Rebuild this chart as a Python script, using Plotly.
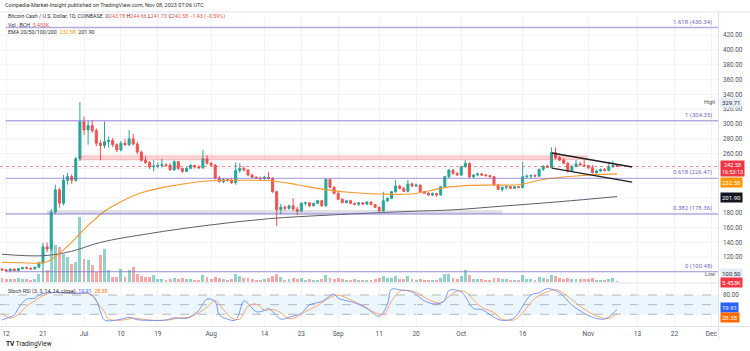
import plotly.graph_objects as go
import pandas as pd

# ---------------- data ----------------
start = pd.Timestamp("2023-06-11")

opens = [104, 103, 101.5, 104, 102, 104.5, 106, 105, 104, 106.5,
         112, 134, 131, 181, 211, 193, 224, 229, 224, 253,
         303, 292, 298, 291, 274, 271, 276, 278, 272, 265,
         274, 272, 280, 273, 262, 251, 248, 242, 243, 244,
         245, 244, 238, 249, 240, 236, 240, 244, 242, 241,
         253, 247, 244.5, 227, 222, 225, 224, 221, 237, 240,
         238, 231, 228, 227, 226, 228, 226.5, 208.5, 184, 187.5,
         186, 189.5, 185, 182, 193, 193.5, 189.5, 192.8, 196.4, 189.5,
         225, 214.4, 206.3, 198.2, 193.7, 196.4, 192.8, 191.5, 193.5, 191.8,
         194.5, 191, 187.4, 182.4, 196.4, 199.6, 208.6, 216.2, 213, 209,
         219, 216.2, 217.5, 208.6, 206.5, 204, 206, 204, 215.3, 228.8,
         237.8, 233.3, 231, 242.3, 246.9, 228.8, 231, 232.5, 231, 230.2,
         228.8, 217.6, 211.7, 214.4, 215.3, 213.1, 215.3, 214, 228.8, 229.5,
         230.5, 229.5, 238.7, 243.2, 241.5, 261.3, 254.5, 251.3, 246.8, 237,
         242.5, 246, 244.6, 243.5, 241, 234.2, 236.5, 238.5, 237.2, 242.3,
         243.78]
highs = [105.5, 104, 104.5, 105, 105, 107, 107.5, 106.5, 107, 114,
         139, 140, 185, 218, 214, 231, 234, 232, 256, 329.71,
         310, 304, 305, 294, 278, 303, 283, 281, 274, 277,
         280, 292, 287, 276, 264, 256, 250, 251, 248, 253,
         247, 247, 251, 250, 241, 242, 246, 245, 244, 265,
         258, 249, 246, 230, 227, 226, 227, 248, 247, 243,
         239, 233, 229.5, 229, 230, 235, 228, 210, 192, 190,
         191, 200, 188, 194, 195, 194, 193.5, 197.5, 197, 226,
         226, 216, 208, 199.5, 197.5, 197, 194, 194, 194, 196,
         195, 192, 188.3, 208.5, 200.5, 209.5, 224.3, 218, 215, 224.3,
         221, 219.5, 218.5, 210, 208, 207.5, 207, 216, 229.5, 239,
         239, 234.5, 243.5, 251.3, 248, 232, 234.5, 234, 232.5, 231,
         229.5, 219, 215.5, 216.5, 216.5, 216.5, 216.5, 249, 232, 231.5,
         232, 240, 244, 245, 268.4, 268.5, 257, 254, 249, 245,
         251.3, 249, 251.3, 245, 244.6, 238.5, 240, 240.5, 249, 250.4,
         244.66]
lows = [101.5, 100.5, 101, 101.5, 101, 103.5, 104, 103.5, 103.5, 105.5,
        111, 127, 129, 178, 187, 190, 218, 219, 222, 250,
        285, 272, 288, 270, 251, 267, 268, 269, 262, 263,
        270, 270, 271, 259, 249, 246, 239, 236, 240, 241,
        242, 237, 237, 238, 234, 235, 239, 240, 239, 239,
        245, 243, 225, 221, 220, 222, 219, 218, 234, 236,
        230, 227, 226, 225, 225, 225, 207, 162, 178, 183,
        184, 182, 177, 181, 190, 188, 188.5, 191.5, 188, 188,
        213, 205, 197, 193.5, 193, 192, 190, 189.5, 191, 190.5,
        190.5, 186.5, 181, 181.5, 194.5, 198.5, 207, 211.5, 208, 207.5,
        215, 214.5, 207.5, 205.5, 203, 202.5, 201.5, 203, 213.5, 227,
        231.5, 230, 230, 241, 227, 227, 229.5, 230, 229, 227.5,
        216.5, 210.5, 208.5, 211.5, 212, 212.5, 213.5, 213, 226, 226.5,
        228, 228.5, 236.5, 240.5, 240, 252, 249.5, 245.5, 234, 236,
        241.5, 243, 242.5, 239, 233, 232.5, 235, 236, 236, 240.5,
        241.73]
closes = [103, 101.5, 104, 102, 104.5, 106, 105, 104, 106.5, 112,
          134, 131, 181, 211, 193, 224, 229, 224, 253, 303,
          292, 298, 291, 274, 271, 276, 278, 272, 265, 274,
          272, 280, 273, 262, 251, 248, 242, 243, 244, 245,
          244, 238, 249, 240, 236, 240, 244, 242, 241, 253,
          247, 244.5, 227, 222, 225, 224, 221, 237, 240, 238,
          231, 228, 227, 226, 228, 226.5, 208.5, 184, 187.5, 186,
          189.5, 185, 182, 193, 193.5, 189.5, 192.8, 196.4, 189.5, 225,
          214.4, 206.3, 198.2, 193.7, 196.4, 192.8, 191.5, 193.5, 191.8, 194.5,
          191, 187.4, 182.4, 196.4, 199.6, 208.6, 216.2, 213, 209, 219,
          216.2, 217.5, 208.6, 206.5, 204, 206, 204, 215.3, 228.8, 237.8,
          233.3, 231, 242.3, 246.9, 228.8, 231, 232.5, 231, 230.2, 228.8,
          217.6, 211.7, 214.4, 215.3, 213.1, 215.3, 214, 228.8, 229.5, 230.5,
          229.5, 238.7, 243.2, 241.5, 261.3, 254.5, 251.3, 246.8, 237, 242.5,
          246, 244.6, 243.5, 241, 234.2, 236.5, 238.5, 237.2, 242.3, 244.01,
          242.58]
volumes_k = [21, 16, 16, 16, 21, 16, 16, 11, 16, 43,
             178, 65, 227, 200, 189, 151, 135, 97, 108, 351,
             124, 119, 92, 54, 146, 178, 65, 27, 27, 70,
             27, 65, 81, 43, 32, 27, 27, 38, 16, 14,
             12, 18, 22, 18, 20, 16, 14, 12, 10, 38,
             27, 14, 25, 22, 14, 10, 16, 43, 30, 20,
             22, 16, 10, 9, 14, 22, 30, 43, 25, 12,
             14, 22, 18, 20, 12, 14, 10, 12, 18, 38,
             24, 18, 20, 14, 10, 12, 14, 12, 10, 12,
             10, 14, 20, 30, 20, 24, 30, 18, 14, 30,
             16, 12, 18, 12, 10, 10, 12, 22, 43, 43,
             24, 14, 30, 65, 38, 16, 14, 14, 10, 12,
             22, 20, 16, 14, 12, 10, 10, 38, 18, 14,
             12, 27, 22, 14, 38, 32, 20, 18, 24, 16,
             18, 14, 16, 14, 22, 12, 10, 10, 16, 20,
             5.453]

# EMA lines, read at sample days (day offset from start, value)
ema50_day = [0, 5, 9, 11, 13, 15, 17, 19, 22, 25, 29, 34, 41, 50, 58, 66,
             72, 78, 86, 92, 100, 108, 114, 120, 126, 132, 140, 150]
ema50_val = [113, 112.5, 112, 114, 121, 130, 140, 152, 168, 182, 195, 207,
             216, 223, 224, 223, 218, 212, 207, 205.5, 205.5, 214, 217,
             217.5, 218, 225, 229.7, 232.58]
ema200_day = [0, 10, 17, 24, 36, 50, 65, 80, 100, 110, 122, 136, 150]
ema200_val = [124, 122, 128, 140, 152, 163, 172, 177, 182, 184, 189, 195, 201.9]

# Stoch RSI (%K blue, %D orange)
stk_day = [0, 2, 3, 4, 6, 8, 9, 11, 13, 16, 19, 21, 23, 24, 25, 28, 31, 33,
           36, 40, 42, 45, 47, 48, 50, 52, 53, 55, 57, 59, 60, 62, 64, 65,
           68, 70, 73, 75, 78, 81, 82, 86, 89, 92, 94, 95, 97, 100, 103,
           106, 108, 109, 112, 115, 117, 121, 123, 125, 129, 131, 133, 136,
           139, 142, 145, 147, 148, 150]
stk_val = [2, 12, 18, 39, 67, 70, 80, 87, 88, 86, 85, 86, 64, 28, 2, 2,
           10, 3, 1, 2, 9, 7, 22, 32, 67, 60, 18, 5, 2, 62, 54, 28, 32, 38,
           5, 11, 23, 49, 60, 83, 70, 56, 38, 14, 52, 98, 96, 90, 62, 52,
           64, 94, 90, 38, 35, 4, 1, 10, 80, 87, 100, 87, 49, 23, 7, 5, 12, 35]
std_day = [0, 2, 4, 6, 8, 10, 12, 16, 20, 22, 23, 25, 26, 30, 32, 34, 37, 41,
           43, 46, 48, 50, 52, 54, 56, 58, 60, 62, 64, 66, 68, 70, 72, 74,
           77, 80, 82, 85, 88, 91, 93, 95, 97, 99, 101, 104, 107, 109, 111,
           113, 115, 117, 120, 122, 125, 127, 130, 133, 135, 137, 140, 143,
           146, 148, 150]
std_val = [23, 8, 20, 45, 62, 78, 87, 86, 85, 80, 60, 28, 5, 3, 8, 5, 1, 3,
           8, 12, 25, 42, 62, 35, 8, 5, 45, 52, 33, 35, 25, 6, 12, 28, 48,
           72, 80, 65, 47, 25, 20, 60, 92, 94, 88, 66, 55, 75, 92, 90, 65,
           42, 25, 5, 3, 25, 70, 90, 97, 85, 55, 28, 10, 7, 22]

fib_levels = [430.34, 304.35, 226.47, 178.36, 100.48]
fib_texts = ["1.618 (430.34)", "1 (304.35)", "0.618 (226.47)", "0.382 (178.36)", "0 (100.48)"]

tick_dates = ["2023-06-12", "2023-06-21", "2023-07-01", "2023-07-10", "2023-07-19",
              "2023-08-01", "2023-08-14", "2023-08-23", "2023-09-01", "2023-09-11",
              "2023-09-20", "2023-10-01", "2023-10-16", "2023-11-01", "2023-11-13",
              "2023-11-22", "2023-12-01"]
tick_text = ["12", "21", "Jul", "10", "19", "Aug", "14", "23", "Sep", "11", "20",
             "Oct", "16", "Nov", "13", "22", "Dec"]
# price ticks shown (those hidden behind the value labels are left out)
price_ticks = [120, 140, 160, 180, 260, 280, 300, 320, 340, 360, 380, 400, 420]
grid_ticks = list(range(100, 440, 20))

# ---------------- helpers ----------------
W, H = 750, 351
def d(day):
    return start + pd.Timedelta(days=day)
def py(ypx):
    return 1 - ypx / H
def px(xpx):
    return xpx / W

dates = [d(i) for i in range(len(opens))]
GREEN = "#26a69a"
RED = "#ef5350"
FONT = "Roboto, Liberation Sans, sans-serif"
TXT = "#4c525e"

# layout geometry (pixels)
PLOT_R = 718
PANE_TOP, PANE_BOT = 18, 282
PX_PER_UNIT = 0.74  # price px per dollar, 400 at y=50
p_top = 400 + (50 - PANE_TOP) / PX_PER_UNIT
p_bot = 400 - (PANE_BOT - 50) / PX_PER_UNIT
ST_TOP, ST_BOT = 284, 326
s_top = (320.7 - ST_TOP) / 0.321
s_bot = (320.7 - ST_BOT) / 0.321
VOL_PX = 65
vol_range = max(volumes_k) * (PANE_BOT - PANE_TOP) / VOL_PX

x_left = start - pd.Timedelta(days=2 / 4.1)
x_right = start + pd.Timedelta(days=(PLOT_R - 2) / 4.1)

fig = go.Figure()

# volume (base axis y)
vol_colors = ["rgba(38,166,154,0.5)" if c >= o else "rgba(239,83,80,0.5)"
              for o, c in zip(opens, closes)]
fig.add_trace(go.Bar(x=dates, y=volumes_k, marker=dict(color=vol_colors, line=dict(width=0)),
                     width=0.72 * 86400000, xaxis="x", yaxis="y", hoverinfo="skip"))

# candles on price axis y3
fig.add_trace(go.Candlestick(
    x=dates, open=opens, high=highs, low=lows, close=closes,
    increasing=dict(line=dict(color=GREEN, width=1), fillcolor=GREEN),
    decreasing=dict(line=dict(color=RED, width=1), fillcolor=RED),
    whiskerwidth=0, xaxis="x", yaxis="y3", hoverinfo="skip"))

fig.add_trace(go.Scatter(x=[d(v) for v in ema200_day], y=ema200_val, mode="lines",
                         line=dict(color="#5d606b", width=1, shape="spline"),
                         xaxis="x", yaxis="y3", hoverinfo="skip"))
fig.add_trace(go.Scatter(x=[d(v) for v in ema50_day], y=ema50_val, mode="lines",
                         line=dict(color="#f59b2f", width=1.1, shape="spline"),
                         xaxis="x", yaxis="y3", hoverinfo="skip"))

# stoch RSI
fig.add_trace(go.Scatter(x=[d(v) for v in std_day], y=std_val, mode="lines",
                         line=dict(color="#ff9a5a", width=0.9, shape="spline"),
                         xaxis="x", yaxis="y2", hoverinfo="skip"))
fig.add_trace(go.Scatter(x=[d(v) for v in stk_day], y=stk_val, mode="lines",
                         line=dict(color="#6b8ff5", width=0.9, shape="spline"),
                         xaxis="x", yaxis="y2", hoverinfo="skip"))

shapes = []
# stoch band + dashed levels
shapes.append(dict(type="rect", xref="x domain", yref="y2", x0=0, x1=1, y0=20, y1=80,
                   fillcolor="rgba(33,150,243,0.09)", line=dict(width=0), layer="below"))
for lv in (20, 50, 80):
    shapes.append(dict(type="line", xref="x domain", yref="y2", x0=0, x1=1, y0=lv, y1=lv,
                       line=dict(color="#a3a6af", width=0.8, dash="dash"), layer="below"))
# horizontal grid lines of the price pane
for g in grid_ticks:
    shapes.append(dict(type="line", xref="x domain", yref="y3", x0=0, x1=1, y0=g, y1=g,
                       line=dict(color="#f2f3f6", width=1), layer="below"))
# support / resistance zones
shapes.append(dict(type="rect", xref="x", yref="y3", x0=d(19), x1=d(142.7), y0=251.5, y1=257,
                   fillcolor="rgba(242,54,69,0.22)", line=dict(color="rgba(242,54,69,0.35)", width=0.6)))
shapes.append(dict(type="rect", xref="x", yref="y3", x0=d(10.9), x1=d(122), y0=178.4, y1=183.8,
                   fillcolor="rgba(120,134,160,0.24)", line=dict(width=0)))
# rounded-bottom shaded area
cup = [(110.97, 256.8), (119.8, 217.6), (126.3, 217.6), (126.8, 251.5)]
path = "M " + " L ".join(f"{d(a).strftime('%Y-%m-%d %H:%M:%S')},{b}" for a, b in cup) + " Z"
shapes.append(dict(type="path", xref="x", yref="y3", path=path,
                   fillcolor="rgba(38,166,154,0.12)", line=dict(color="rgba(120,134,150,0.5)", width=0.6)))
# fib levels
for lv in fib_levels:
    shapes.append(dict(type="line", xref="x", yref="y3", x0=d(0.9), x1=d(200), y0=lv, y1=lv,
                       line=dict(color="rgba(126,100,200,0.55)", width=1.4)))
# current price dotted line
shapes.append(dict(type="line", xref="x domain", yref="y3", x0=0, x1=1, y0=closes[-1], y1=closes[-1],
                   line=dict(color="rgba(242,54,69,0.7)", width=0.8, dash="dot")))
# descending channel
shapes.append(dict(type="line", xref="x", yref="y3", x0=d(134.1), y0=260.8, x1=d(153.7), y1=241.9,
                   line=dict(color="#1e1e1e", width=1.3)))
shapes.append(dict(type="line", xref="x", yref="y3", x0=d(134.1), y0=240.5, x1=d(153.7), y1=221.6,
                   line=dict(color="#1e1e1e", width=1.3)))
# pane separators / borders
shapes.append(dict(type="line", xref="paper", yref="paper", x0=0, x1=px(PLOT_R), y0=py(283), y1=py(283),
                   line=dict(color="#e0e3eb", width=1)))
shapes.append(dict(type="line", xref="paper", yref="paper", x0=0, x1=1, y0=py(326.5), y1=py(326.5),
                   line=dict(color="#e0e3eb", width=1)))
shapes.append(dict(type="line", xref="paper", yref="paper", x0=px(PLOT_R + 0.5), x1=px(PLOT_R + 0.5),
                   y0=py(12), y1=py(339), line=dict(color="#e0e3eb", width=1)))
shapes.append(dict(type="line", xref="paper", yref="paper", x0=0, x1=1, y0=py(12), y1=py(12),
                   line=dict(color="#e0e3eb", width=1)))

ann = []
for lv, t in zip(fib_levels, fib_texts):
    ann.append(dict(xref="x domain", yref="y3", x=0.995, y=lv, xanchor="right", yanchor="bottom",
                    text=t, showarrow=False, font=dict(family=FONT, size=6, color="#7b68c4")))

def box(ypx, text, bg, fc="white", x=720, size=6):
    ann.append(dict(xref="paper", yref="paper", x=px(x), y=py(ypx), xanchor="left", yanchor="middle",
                    text=text, showarrow=False, bgcolor=bg, borderpad=1,
                    font=dict(family=FONT, size=size, color=fc)))

box(102, f"{max(highs):.2f}", "#e3ecf7", "#2a2e39")
box(168.8, f"{closes[-1]:.2f}<br>16:53:13", "#f23645", size=5.5)
box(182, f"{ema50_val[-1]:.2f}", "#ff9800")
box(197.5, f"{ema200_val[-1]:.2f}", "#131722")
box(273.3, f"{min(lows):.2f}", "#e3ecf7", "#2a2e39")
box(282, f"{volumes_k[-1]:.3f}K", "#f23645")
box(307.7, "19.91", "#2962ff")
box(317, "28.38", "#ff6d00")
ann.append(dict(xref="paper", yref="paper", x=px(717), y=py(102), xanchor="right", yanchor="middle",
                text="High", showarrow=False, font=dict(family=FONT, size=5.5, color="#555")))
ann.append(dict(xref="paper", yref="paper", x=px(717), y=py(274), xanchor="right", yanchor="middle",
                text="Low", showarrow=False, font=dict(family=FONT, size=5.5, color="#555")))

# header texts
ann.append(dict(xref="paper", yref="paper", x=px(3), y=py(5), xanchor="left", yanchor="middle",
                text="Coinpedia-Market-Insight published on TradingView.com, Nov 08, 2023 07:06 UTC",
                showarrow=False, font=dict(family=FONT, size=5.5, color="#333")))
R = "#ef5350"
ann.append(dict(xref="paper", yref="paper", x=px(6), y=py(17), xanchor="left", yanchor="middle",
                text=("Bitcoin Cash / U.S. Dollar, 1D, COINBASE  "
                      f"O<span style='color:{R}'>243.78</span> H<span style='color:{R}'>244.66</span> "
                      f"L<span style='color:{R}'>241.73</span> C<span style='color:{R}'>242.58</span> "
                      f"<span style='color:{R}'>−1.43 (−0.59%)</span>"),
                showarrow=False, font=dict(family=FONT, size=5.3, color="#2a2e39")))
ann.append(dict(xref="paper", yref="paper", x=px(6), y=py(24.5), xanchor="left", yanchor="middle",
                text=f"Vol · BCH  <span style='color:{R}'>5.453K</span>",
                showarrow=False, font=dict(family=FONT, size=5.3, color="#2a2e39")))
ann.append(dict(xref="paper", yref="paper", x=px(6), y=py(32), xanchor="left", yanchor="middle",
                text="EMA 20/50/100/200  <span style='color:#ff9800'>232.58</span>  201.90",
                showarrow=False, font=dict(family=FONT, size=5.3, color="#2a2e39")))
ann.append(dict(xref="paper", yref="paper", x=px(6), y=py(291), xanchor="left", yanchor="middle",
                text=("Stoch RSI (3, 3, 14, 14, close)  <span style='color:#2962ff'>19.91</span>  "
                      "<span style='color:#ff6d00'>28.38</span>"),
                showarrow=False, font=dict(family=FONT, size=5.3, color="#2a2e39")))
ann.append(dict(xref="paper", yref="paper", x=px(4), y=py(343.5), xanchor="left", yanchor="middle",
                text="<b>TV</b> TradingView", showarrow=False,
                font=dict(family=FONT, size=6.5, color="#131722")))

fig.update_layout(
    width=W, height=H, margin=dict(l=0, r=0, t=0, b=0),
    paper_bgcolor="white", plot_bgcolor="white", showlegend=False,
    font=dict(family=FONT, size=6.5, color=TXT),
    shapes=shapes, annotations=ann, hovermode=False, bargap=0,
    xaxis=dict(domain=[0, px(PLOT_R)], anchor="y2", type="date", range=[x_left, x_right],
               tickvals=tick_dates, ticktext=tick_text, showgrid=True, gridcolor="#f2f3f6",
               gridwidth=1, zeroline=False, showline=False, ticks="", ticklabelstandoff=2,
               tickfont=dict(size=6.5, color=TXT), rangeslider=dict(visible=False)),
    yaxis=dict(domain=[py(PANE_BOT), py(PANE_TOP)], range=[0, vol_range], visible=False,
               fixedrange=True),
    yaxis3=dict(overlaying="y", side="right", anchor="x", range=[p_bot, p_top],
                tickvals=price_ticks, tickformat=".2f", showgrid=False,
                zeroline=False, showline=False, ticks="", ticklabelstandoff=4,
                tickfont=dict(size=6.3, color=TXT)),
    yaxis2=dict(domain=[py(ST_BOT), py(ST_TOP)], range=[s_bot, s_top], side="right", anchor="x",
                tickvals=[80], tickformat=".2f", showgrid=False, zeroline=False,
                showline=False, ticks="", ticklabelstandoff=4, tickfont=dict(size=6.3, color=TXT)),
)

fig.write_html("out.html")
